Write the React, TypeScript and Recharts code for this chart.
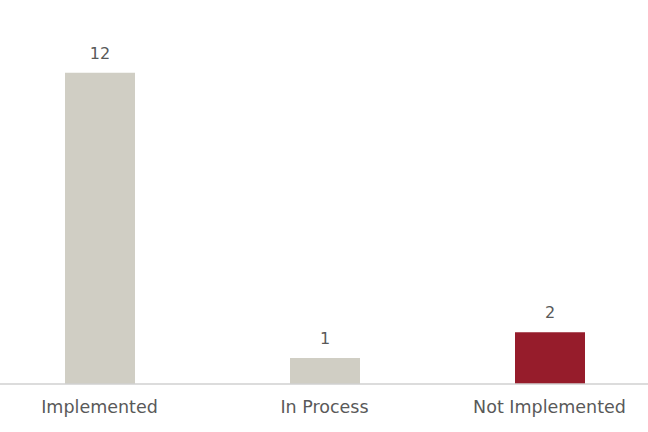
import { BarChart, Bar, XAxis, YAxis, Cell, LabelList } from 'recharts'

const categories = ['Implemented', 'In Process', 'Not Implemented']
const counts = [12, 1, 2]
const barColors = ['#d0cec4', '#d0cec4', '#961c2b']

const data = categories.map((name, i) => ({ name, value: counts[i] }))

export default function App() {
	return (
		<div style={{ position: 'absolute', left: 0, top: 0, width: 648, height: 432, overflow: 'hidden', background: '#fff' }}>
			<div style={{ marginLeft: -13.5 }}>
				<BarChart
					width={675}
					height={432}
					data={data}
					margin={{ top: 21, right: 0, bottom: 18, left: 0 }}
					barCategoryGap={0}
				>
					<XAxis
						dataKey="name"
						tickLine={false}
						tickSize={0}
						tickMargin={17}
						axisLine={{ stroke: '#d0d0d0', strokeWidth: 1.5 }}
						tick={{ fill: '#595959', fontSize: 17.5, fontFamily: 'DejaVu Sans' }}
						interval={0}
					/>
					<YAxis hide domain={[0, 14]} />
					<Bar dataKey="value" barSize={70} isAnimationActive={false}>
						{data.map((_, i) => (
							<Cell key={`cell-${i}`} fill={barColors[i]} />
						))}
						<LabelList
							dataKey="value"
							position="top"
							offset={14}
							fill="#595959"
							fontSize={16}
							fontFamily="DejaVu Sans"
						/>
					</Bar>
				</BarChart>
			</div>
		</div>
	)
}
